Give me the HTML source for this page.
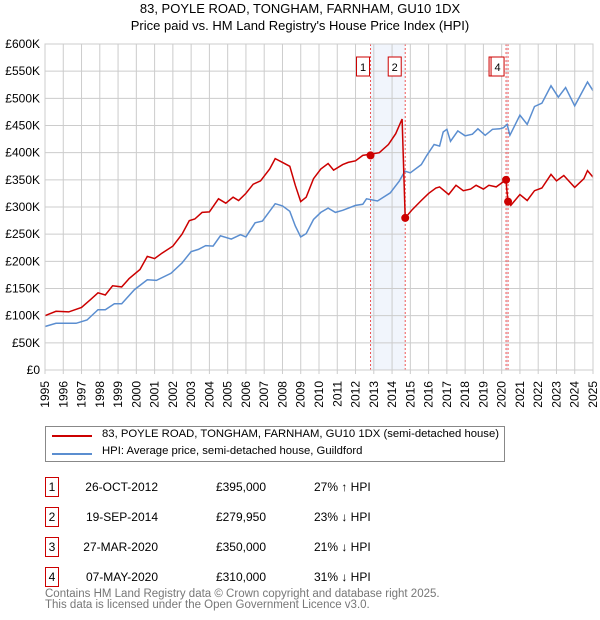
<!DOCTYPE html>
<html><head><meta charset="utf-8"><style>
body{margin:0;background:#fff;font-family:"Liberation Sans","DejaVu Sans",sans-serif;}
#wrap{position:relative;width:600px;height:620px;overflow:hidden;}
.t{position:absolute;font-size:12px;color:#000;white-space:nowrap;}
.box{position:absolute;border:1px solid #c00;width:12px;height:18px;text-align:center;line-height:18px;font-size:12px;}
</style></head><body><div id="wrap">
<div class="t" style="left:0;width:600px;text-align:center;top:1px;font-size:13px">83, POYLE ROAD, TONGHAM, FARNHAM, GU10 1DX</div>
<div class="t" style="left:0;width:600px;text-align:center;top:18px;font-size:13px">Price paid vs. HM Land Registry's House Price Index (HPI)</div>
<svg id="c" width="600" height="420" style="position:absolute;left:0;top:0"></svg>
<div style="position:absolute;left:45px;top:426px;width:458px;height:34px;border:1px solid #888">
<div style="position:absolute;left:6px;top:8px;width:40px;height:2px;background:#c00"></div>
<div class="t" style="left:56px;top:1px;font-size:11.3px">83, POYLE ROAD, TONGHAM, FARNHAM, GU10 1DX (semi-detached house)</div>
<div style="position:absolute;left:6px;top:26px;width:40px;height:2px;background:#5b8ed0"></div>
<div class="t" style="left:56px;top:18px;font-size:11.3px">HPI: Average price, semi-detached house, Guildford</div>
</div>
<div id="tbl"></div>
<div class="t" style="left:45px;top:589px;font-size:11.5px;color:#777;line-height:11px">Contains HM Land Registry data © Crown copyright and database right 2025.<br>This data is licensed under the Open Government Licence v3.0.</div>
</div>
<script>
const hpiYears=[1995,1995.6,1996.7,1997.3,1997.9,1998.3,1998.8,1999.2,1999.9,2000.6,2001.1,2001.9,2002.5,2003,2003.4,2003.8,2004.2,2004.6,2005.2,2005.7,2006,2006.5,2006.9,2007.6,2008,2008.4,2008.7,2009,2009.3,2009.7,2010.1,2010.5,2010.9,2011.3,2012,2012.4,2012.6,2013.2,2013.9,2014.4,2014.7,2015,2015.6,2015.9,2016.3,2016.6,2016.8,2017,2017.2,2017.6,2018,2018.4,2018.7,2019.1,2019.5,2019.9,2020.1,2020.3,2020.45,2021,2021.4,2021.8,2022.2,2022.7,2023.1,2023.5,2024,2024.3,2024.7,2025];
const hpiValues=[80,86,86,92,111,111,122,122,148,166,165,178,197,218,222,229,228,247,241,249,245,271,274,306,302,292,265,245,251,277,290,298,290,294,303,305,315,311,326,348,366,363,378,395,415,412,438,443,421,440,431,434,444,432,443,444,446,452,432,469,452,485,491,523,502,520,486,505,530,514];
const redYears=[1995,1995.6,1996.3,1997,1997.5,1997.9,1998.3,1998.7,1999.2,1999.6,2000.2,2000.6,2001,2001.4,2002,2002.5,2002.9,2003.2,2003.6,2004,2004.5,2004.9,2005.3,2005.6,2006,2006.4,2006.8,2007.3,2007.6,2008,2008.4,2008.7,2009,2009.3,2009.7,2010.1,2010.5,2010.8,2011.3,2011.6,2012,2012.4,2012.8,2013.3,2013.8,2014.2,2014.55,2014.72,2015.1,2015.6,2016,2016.4,2016.6,2017.1,2017.5,2017.9,2018.3,2018.6,2019,2019.3,2019.7,2020.24,2020.27,2020.35,2020.5,2021,2021.4,2021.8,2022.2,2022.7,2023,2023.4,2024,2024.5,2024.7,2025];
const redValues=[100,108,107,115,130,142,138,155,153,168,185,209,205,215,228,250,275,278,290,291,315,307,318,312,325,342,348,370,389,382,375,340,310,318,352,370,380,368,378,382,385,395,397,400,415,435,462,280,295,312,325,335,337,323,340,330,333,340,333,340,337,350,335,310,303,323,312,330,335,360,348,358,336,352,367,355];
const saleLabels=["1","2","3","4"];
const saleYears=[2012.82,2014.72,2020.24,2020.35];
const salePrices=[395,279.95,350,310];
const saleDates=["26-OCT-2012","19-SEP-2014","27-MAR-2020","07-MAY-2020"];
const salePriceText=["£395,000","£279,950","£350,000","£310,000"];
const saleHpiText=["27% ↑ HPI","23% ↓ HPI","21% ↓ HPI","31% ↓ HPI"];
const yTicks=[0,50,100,150,200,250,300,350,400,450,500,550,600];
const yTickLabels=["£0","£50K","£100K","£150K","£200K","£250K","£300K","£350K","£400K","£450K","£500K","£550K","£600K"];
const xTicks=[1995,1996,1997,1998,1999,2000,2001,2002,2003,2004,2005,2006,2007,2008,2009,2010,2011,2012,2013,2014,2015,2016,2017,2018,2019,2020,2021,2022,2023,2024,2025];

const L=45,R=593,T=44,B=370;
const X=y=>L+(y-1995)*(R-L)/30;
const Y=v=>B-v*(B-T)/600;
const svg=document.getElementById('c');
const NS='http://www.w3.org/2000/svg';
function mk(tag,attrs){const e=document.createElementNS(NS,tag);for(const k in attrs)e.setAttribute(k,attrs[k]);svg.appendChild(e);return e;}
for(const [a,b] of [[0,1],[2,3]]){
 const r=mk('rect',{x:X(saleYears[a]),y:T,width:X(saleYears[b])-X(saleYears[a]),height:B-T,fill:'#e8eefa',opacity:0.6});
 
 
}
yTicks.forEach((v,i)=>{
 const l=mk('line',{x1:L,x2:R,y1:Y(v),y2:Y(v),stroke:'#ccc','stroke-width':1});
 
 
 const t=mk('text',{x:L-5,y:Y(v)+4,'text-anchor':'end','font-size':12,fill:'#000'});
 t.textContent=yTickLabels[i];
 
 
});
xTicks.forEach(yr=>{
 const l=mk('line',{x1:X(yr),x2:X(yr),y1:T,y2:B+4,stroke:'#ccc','stroke-width':1});
 
 
 const t=mk('text',{x:X(yr),y:B+11,'text-anchor':'end','font-size':12,fill:'#000',transform:`rotate(-90 ${X(yr)} ${B+11})`,dy:4});
 t.textContent=yr;
 
 
});
saleYears.forEach(yr=>{
 const l=mk('line',{x1:X(yr),x2:X(yr),y1:T,y2:B,stroke:'#e55','stroke-width':1,'stroke-dasharray':'2,2'});
 
 
});
const pts=(xs,vs)=>xs.map((x,i)=>X(x).toFixed(1)+','+Y(vs[i]).toFixed(1)).join(' ');
const hp=mk('polyline',{points:pts(hpiYears,hpiValues),fill:'none',stroke:'#5b8ed0','stroke-width':1.5});


const rp=mk('polyline',{points:pts(redYears,redValues),fill:'none',stroke:'#c00','stroke-width':1.5});


saleYears.forEach((yr,i)=>{
 const c=mk('circle',{cx:X(yr),cy:Y(salePrices[i]),r:4,fill:'#c00'});
 
 
 const bx=X(yr)-(i==2?17:14)+(i==1||i==3?-3:0);
 const r=mk('rect',{x:bx,y:57,width:13,height:19,fill:'#fff',stroke:'#c00'});
 
 
 const t=mk('text',{x:bx+6.5,y:71,'text-anchor':'middle','font-size':11,fill:'#000'});
 t.textContent=saleLabels[i];
 
 
});
mk('rect',{x:L,y:T,width:R-L,height:B-T,fill:'none',stroke:'#ccc'});
const tbl=document.getElementById('tbl');
saleLabels.forEach((s,i)=>{
 const top=477+i*30;
 const row=document.createElement('div');
 
 
 row.innerHTML=`<div class="box" style="left:45px;top:${top}px">${s}</div>
 <div class="t" style="left:70px;width:88px;text-align:right;top:${top+3}px">${saleDates[i]}</div>
 <div class="t" style="left:200px;width:66px;text-align:right;top:${top+3}px">${salePriceText[i]}</div>
 <div class="t" style="left:314px;top:${top+3}px">${saleHpiText[i]}</div>`;
 tbl.appendChild(row);
});
</script></body></html>
